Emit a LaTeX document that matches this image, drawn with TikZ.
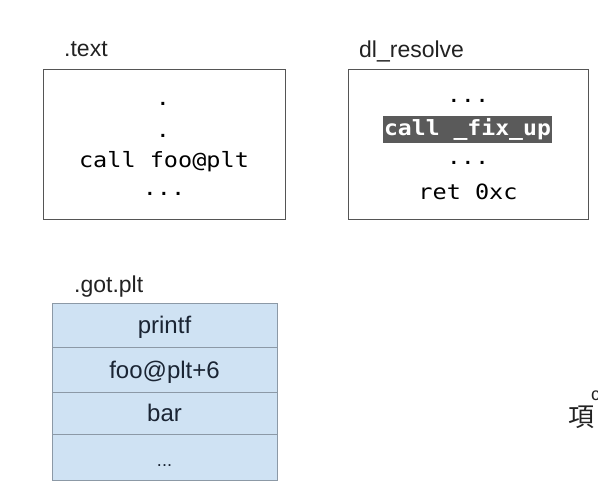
\documentclass[tikz,border=0pt]{standalone}
\usepackage{graphicx}
\usepackage{fontspec}
\setmainfont{Liberation Sans}
\newfontfamily\codefont{DejaVu Sans Mono}
\newfontfamily\cjkfont{Noto Sans CJK TC}
\newcommand{\codetxt}[1]{{\fontsize{21}{21}\selectfont\codefont\scalebox{1.12}[1]{#1}}}
\newcommand{\codebold}[1]{{\fontsize{21}{21}\selectfont\codefont\bfseries\scalebox{1.1}[1]{#1}}}
\definecolor{boxline}{HTML}{555555}
\definecolor{gotfill}{HTML}{CFE2F3}
\definecolor{gotline}{HTML}{8C99A6}
\definecolor{gottext}{HTML}{1A2433}
\definecolor{hilite}{HTML}{5A5A5A}
\definecolor{lbltext}{HTML}{222222}
\begin{document}
\begin{tikzpicture}[x=1pt,y=-1pt,
  lbl/.style={anchor=base west, inner sep=0pt, text=lbltext, font=\fontsize{23}{23}\selectfont},
  secbox/.style={draw=boxline, line width=1pt, anchor=north west, inner sep=0pt},
  codeline/.style={inner sep=0pt, text=black},
  gotcell/.style={draw=gotline, fill=gotfill, line width=0.8pt, anchor=north west, inner sep=0pt,
     minimum width=225},
  celltext/.style={inner sep=0pt, text=gottext, font=\fontsize{24}{24}\selectfont},
  hilitebox/.style={fill=hilite, text=white, inner sep=0pt, minimum height=27, minimum width=169}
]
\useasboundingbox (0,0) rectangle (598,501);
\clip (0,0) rectangle (598,501);
\fill[white] (0,0) rectangle (598,501);

% .text section
\node[lbl] (textlbl) at (64,56) {.text};
\node[secbox, minimum width=242, minimum height=150] (textbox) at (43,69) {};
\node[codeline] (t1) at (163,104) {\codetxt{.}};
\node[codeline] (t2) at (163,136) {\codetxt{.}};
\node[codeline] (t3) at (164,162) {\codetxt{call foo@plt}};
\node[codeline] (t4) at (164,194) {\codetxt{...}};

% dl_resolve section
\node[lbl] (dllbl) at (359,57) {dl\_resolve};
\node[secbox, minimum width=240, minimum height=150] (dlbox) at (348,69) {};
\node[codeline] (d1) at (468,101) {\codetxt{...}};
\node[hilitebox] (d2) at (467.5,129.5) {\codebold{call \_fix\_up}};
\node[codeline] (d3) at (468,163) {\codetxt{...}};
\node[codeline] (d4) at (468,192) {\codetxt{ret 0xc}};

% .got.plt section
\node[lbl] (gotlbl) at (74,292) {.got.plt};
\node[gotcell, minimum height=44] (g1) at (52,303) {};
\node[gotcell, minimum height=45] (g2) at (52,347) {};
\node[gotcell, minimum height=42] (g3) at (52,392) {};
\node[gotcell, minimum height=46] (g4) at (52,434) {};
\node[celltext, anchor=base] (g1t) at (164.5,333) {printf};
\node[celltext, anchor=base] (g2t) at (164.5,378) {foo@plt+6};
\node[celltext, anchor=base] (g3t) at (164.5,421) {bar};
\node[celltext, anchor=base, font=\fontsize{18}{18}\selectfont] (g4t) at (164.5,466) {...};

% cut-off text at right edge
\node[inner sep=0pt, text=lbltext, font=\fontsize{26}{26}\selectfont\cjkfont] (cjk) at (581,417) {項};
\node[inner sep=0pt, anchor=west, text=lbltext, font=\fontsize{18}{18}\selectfont] (cut) at (591,396) {c};
\end{tikzpicture}
\end{document}
